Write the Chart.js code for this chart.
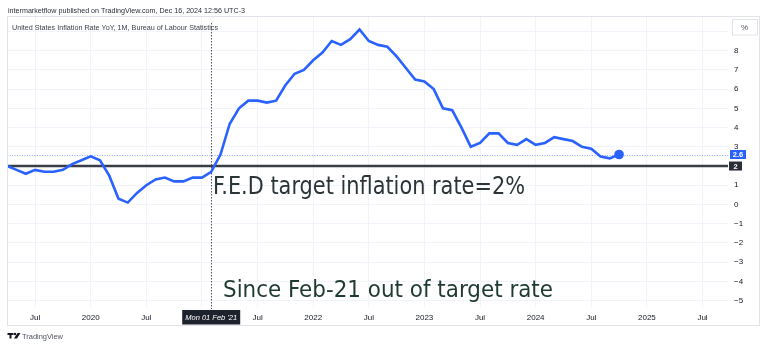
<!DOCTYPE html>
<html>
<head>
<meta charset="utf-8">
<script src="https://cdn.jsdelivr.net/npm/chart.js@4"></script>
<style>
  html, body { margin: 0; padding: 0; background: #fff; }
  canvas { display: block; }
</style>
</head>
<body>
<canvas id="cpi" width="768" height="349"></canvas>
<script>
// US inflation rate, YoY %, monthly
const months = [
  '2019-04', '2019-05', '2019-06', '2019-07', '2019-08', '2019-09', '2019-10', '2019-11', '2019-12',
  '2020-01', '2020-02', '2020-03', '2020-04', '2020-05', '2020-06', '2020-07', '2020-08', '2020-09', '2020-10', '2020-11', '2020-12',
  '2021-01', '2021-02', '2021-03', '2021-04', '2021-05', '2021-06', '2021-07', '2021-08', '2021-09', '2021-10', '2021-11', '2021-12',
  '2022-01', '2022-02', '2022-03', '2022-04', '2022-05', '2022-06', '2022-07', '2022-08', '2022-09', '2022-10', '2022-11', '2022-12',
  '2023-01', '2023-02', '2023-03', '2023-04', '2023-05', '2023-06', '2023-07', '2023-08', '2023-09', '2023-10', '2023-11', '2023-12',
  '2024-01', '2024-02', '2024-03', '2024-04', '2024-05', '2024-06', '2024-07', '2024-08', '2024-09', '2024-10'
];
const cpiYoY = [
  2.0, 1.8, 1.6, 1.8, 1.7, 1.7, 1.8, 2.1, 2.3,
  2.5, 2.3, 1.5, 0.3, 0.1, 0.6, 1.0, 1.3, 1.4, 1.2, 1.2, 1.4,
  1.4, 1.7, 2.6, 4.2, 5.0, 5.4, 5.4, 5.3, 5.4, 6.2, 6.8, 7.0,
  7.5, 7.9, 8.5, 8.3, 8.6, 9.1, 8.5, 8.3, 8.2, 7.7, 7.1, 6.5,
  6.4, 6.0, 5.0, 4.9, 4.0, 3.0, 3.2, 3.7, 3.7, 3.2, 3.1, 3.4,
  3.1, 3.2, 3.5, 3.4, 3.3, 3.0, 2.9, 2.5, 2.4, 2.6
];

const targetRate = 2;
const markerMonth = '2021-02';
const markerLabel = "Mon 01 Feb '21";

const tickMonths = ['2019-07', '2020-01', '2020-07', '2021-01', '2021-07', '2022-01', '2022-07',
                    '2023-01', '2023-07', '2024-01', '2024-07', '2025-01', '2025-07'];
const tickLabels = ['Jul', '2020', 'Jul', '', 'Jul', '2022', 'Jul', '2023', 'Jul', '2024', 'Jul', '2025', 'Jul'];
const priceTicks = [-5, -4, -3, -2, -1, 0, 1, 2, 3, 4, 5, 6, 7, 8, 9];

const headerText = 'intermarketflow published on TradingView.com, Dec 16, 2024 12:56 UTC-3';
const titleText = 'United States Inflation Rate YoY, 1M, Bureau of Labour Statistics';
const targetNote = 'F.E.D target inflation rate=2%';
const sinceNote = 'Since Feb-21 out of target rate';

// months counted from Jan 2019
function monthIndex(s) {
  const [yr, mo] = s.split('-').map(Number);
  return (yr - 2019) * 12 + (mo - 1);
}

const points = months.map((m, i) => ({ x: monthIndex(m), y: cpiYoY[i] }));
const lastValue = cpiYoY[cpiYoY.length - 1];

// draw text squeezed/stretched to a given width
function fitText(ctx, text, x, y, width) {
  const w = ctx.measureText(text).width;
  ctx.save();
  ctx.translate(x, y);
  ctx.scale(width / w, 1);
  ctx.fillText(text, 0, 0);
  ctx.restore();
}

function priceBox(ctx, y, text, bg, left, width) {
  ctx.fillStyle = bg;
  ctx.fillRect(left, y - 4.5, width, 9);
  ctx.fillStyle = '#fff';
  ctx.font = 'bold 7.5px "Liberation Sans"';
  ctx.textAlign = 'center';
  ctx.textBaseline = 'middle';
  ctx.fillText(text, left + width / 2, y + 0.5);
}

const overlay = {
  id: 'overlay',
  beforeDatasetsDraw(chart) {
    const { ctx, chartArea: a, scales: { x, y } } = chart;
    ctx.save();
    // last value guide
    const yl = Math.round(y.getPixelForValue(lastValue)) + 0.5;
    ctx.strokeStyle = '#8fa8ff';
    ctx.lineWidth = 1;
    ctx.setLineDash([1, 1.5]);
    ctx.beginPath();
    ctx.moveTo(a.left, yl);
    ctx.lineTo(a.right, yl);
    ctx.stroke();

    // vertical marker at Feb 2021
    const xm = Math.round(x.getPixelForValue(monthIndex(markerMonth))) + 0.5;
    ctx.strokeStyle = '#50535e';
    ctx.setLineDash([1.5, 1.5]);
    ctx.beginPath();
    ctx.moveTo(xm, a.top + 6);
    ctx.lineTo(xm, a.bottom + 2);
    ctx.stroke();

    // 2% target line
    ctx.setLineDash([]);
    const yt = y.getPixelForValue(targetRate);
    ctx.strokeStyle = '#3a3d46';
    ctx.lineWidth = 2.6;
    ctx.beginPath();
    ctx.moveTo(a.left, yt);
    ctx.lineTo(a.right, yt);
    ctx.stroke();
    ctx.restore();
  },
  afterDraw(chart) {
    const { ctx, chartArea: a, scales: { x, y } } = chart;
    ctx.save();

    // panel frame
    ctx.strokeStyle = '#e0e3eb';
    ctx.lineWidth = 1;
    ctx.strokeRect(7.5, 16.5, 752, 309);

    // header + series title
    ctx.fillStyle = '#2a2e39';
    ctx.textAlign = 'left';
    ctx.textBaseline = 'alphabetic';
    ctx.font = '7.5px "Liberation Sans"';
    fitText(ctx, headerText, 8, 12.5, 237);
    ctx.fillStyle = '#3a3e49';
    ctx.font = '7px "Liberation Sans"';
    fitText(ctx, titleText, 12, 29.5, 206);

    // notes on the chart
    ctx.fillStyle = '#2b3437';
    ctx.font = '24px "DejaVu Sans Condensed"';
    fitText(ctx, targetNote, 213, 193.5, 312);
    ctx.fillStyle = '#1f3a31';
    ctx.font = '23px "DejaVu Sans Condensed"';
    fitText(ctx, sinceNote, 223, 296.5, 330);

    // price labels on the right scale
    priceBox(ctx, y.getPixelForValue(lastValue), String(lastValue), '#2962ff', a.right + 2, 16);
    priceBox(ctx, y.getPixelForValue(targetRate), String(targetRate), '#2a2e39', a.right + 1, 13);

    // unit box
    ctx.fillStyle = '#fff';
    ctx.fillRect(732, 19.5, 25.5, 15.5);
    ctx.strokeStyle = '#e0e3eb';
    ctx.strokeRect(732.5, 19.5, 25, 15.5);
    ctx.fillStyle = '#50535e';
    ctx.font = '8px "Liberation Sans"';
    ctx.textAlign = 'center';
    ctx.textBaseline = 'middle';
    ctx.fillText('%', 744.5, 27.5);

    // time label for the marker
    const xm = x.getPixelForValue(monthIndex(markerMonth));
    ctx.fillStyle = '#1e222d';
    ctx.fillRect(xm - 29, 310, 58, 14.5);
    ctx.fillStyle = '#fff';
    ctx.font = 'italic 7.5px "Liberation Sans"';
    ctx.fillText(markerLabel, xm, 317.5);

    // TradingView mark
    ctx.fillStyle = '#131722';
    ctx.fillRect(7.5, 333, 6, 2);
    ctx.fillRect(9.5, 333, 2, 5.5);
    ctx.beginPath();
    ctx.arc(15, 334, 1.2, 0, Math.PI * 2);
    ctx.fill();
    ctx.beginPath();
    ctx.moveTo(17.5, 333);
    ctx.lineTo(20.5, 333);
    ctx.lineTo(17, 338.5);
    ctx.lineTo(14, 338.5);
    ctx.closePath();
    ctx.fill();
    ctx.fillStyle = '#50535e';
    ctx.textAlign = 'left';
    ctx.textBaseline = 'alphabetic';
    ctx.font = '8px "Liberation Sans"';
    fitText(ctx, 'TradingView', 22, 338.5, 41);
    ctx.restore();
  }
};

const chart = new Chart(document.getElementById('cpi'), {
  type: 'line',
  data: {
    datasets: [{
      data: points,
      borderColor: '#2962ff',
      backgroundColor: '#2962ff',
      borderWidth: 2.6,
      tension: 0,
      pointRadius: c => (c.dataIndex === points.length - 1 ? 3.5 : 0),
      pointHoverRadius: 0,
      clip: false
    }]
  },
  options: {
    responsive: false,
    animation: false,
    devicePixelRatio: 1,
    layout: { padding: { left: 7, top: 17, right: 8, bottom: 23 } },
    plugins: { legend: { display: false }, tooltip: { enabled: false } },
    scales: {
      x: {
        type: 'linear',
        min: 2.97,
        max: 80.75,
        afterFit: s => { s.height = 19; },
        afterBuildTicks: s => { s.ticks = tickMonths.map(m => ({ value: monthIndex(m) })); },
        grid: { color: '#f0f3fa', drawTicks: false },
        border: { display: false },
        ticks: {
          padding: 6,
          maxRotation: 0,
          autoSkip: false,
          color: '#131722',
          font: { family: 'Liberation Sans', size: 8 },
          callback: (v, i) => tickLabels[i]
        }
      },
      y: {
        position: 'right',
        min: -5.33,
        max: 9.75,
        afterFit: s => { s.width = 32; },
        afterBuildTicks: s => { s.ticks = priceTicks.map(v => ({ value: v })); },
        grid: { color: '#f0f3fa', drawTicks: false },
        border: { display: false },
        ticks: {
          padding: 6,
          color: '#131722',
          font: { family: 'Liberation Sans', size: 8 },
          callback: v => String(v).replace('-', '\u2212')
        }
      }
    }
  },
  plugins: [overlay]
});
</script>
</body>
</html>
